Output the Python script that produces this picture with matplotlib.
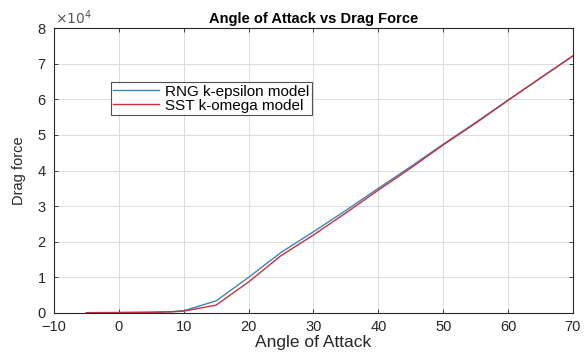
import matplotlib

matplotlib.use("Agg")
import matplotlib.pyplot as plt  # noqa: E402
from matplotlib import font_manager  # noqa: E402

# angle of attack (deg) and drag force (N) for the two turbulence models
angles = [-5, 0, 5, 8, 10, 15, 20, 25, 30, 35, 40, 45, 50, 55, 60, 65, 70]
drag_rng = [80, 120, 200, 350, 600, 3400, 10000, 17000, 22800, 28800, 35000,
            41100, 47400, 53500, 59800, 66000, 72200]
drag_sst = [60, 100, 180, 300, 500, 2200, 8700, 16100, 21900, 28100, 34500,
            40700, 47200, 53300, 59700, 66000, 72200]

x_ticks = [-10, 0, 10, 20, 30, 40, 50, 60, 70]
y_ticks = [0, 10000, 20000, 30000, 40000, 50000, 60000, 70000, 80000]
y_tick_labels = ["0", "1", "2", "3", "4", "5", "6", "7", "8"]

plt.rcParams["font.family"] = ["Liberation Sans", "DejaVu Sans"]
installed = {f.name for f in font_manager.fontManager.ttflist}
narrow = "Liberation Sans Narrow" if "Liberation Sans Narrow" in installed else "Liberation Sans"
ink = "#262626"

fig = plt.figure(figsize=(5.87, 3.52), dpi=100)
ax = fig.add_axes([0.092, 0.111, 0.884, 0.809])

ax.plot(angles, drag_rng, color="#3d86b5", lw=1.0, label="RNG k-epsilon model")
ax.plot(angles, drag_sst, color="#c8303c", lw=1.0, label="SST k-omega model")

ax.set_xlim(-10, 70)
ax.set_ylim(0, 80000)
ax.set_xticks(x_ticks)
ax.set_yticks(y_ticks)
ax.set_yticklabels(y_tick_labels)
ax.tick_params(direction="in", top=True, right=True, length=3,
               labelsize=10.5, colors=ink, width=0.6)
ax.tick_params(axis="x", pad=5)
ax.tick_params(axis="y", pad=6)
ax.grid(True, color="#dcdcdc", lw=0.7)
ax.set_axisbelow(True)
for s in ax.spines.values():
    s.set_color(ink)
    s.set_linewidth(0.8)

ax.text(0.002, 1.004, r"$\times10^{4}$", transform=ax.transAxes, fontsize=10,
        color="#555555", ha="left", va="bottom")
ax.set_title("Angle of Attack vs Drag Force", fontsize=10.5, fontweight="bold",
             pad=4)
ax.set_xlabel("Angle of Attack", fontsize=12.5, labelpad=1, color=ink)
ax.set_ylabel("Drag force", fontsize=10.5, labelpad=8, color=ink,
              family=narrow)

leg = ax.legend(loc="upper left", bbox_to_anchor=(0.11, 0.81), fontsize=11,
                frameon=True, fancybox=False, handlelength=3.0,
                handletextpad=0.4, borderpad=0.15, labelspacing=0.0,
                borderaxespad=0)
leg.get_frame().set_edgecolor(ink)
leg.get_frame().set_linewidth(0.8)

fig.savefig("out.png", dpi=100)
